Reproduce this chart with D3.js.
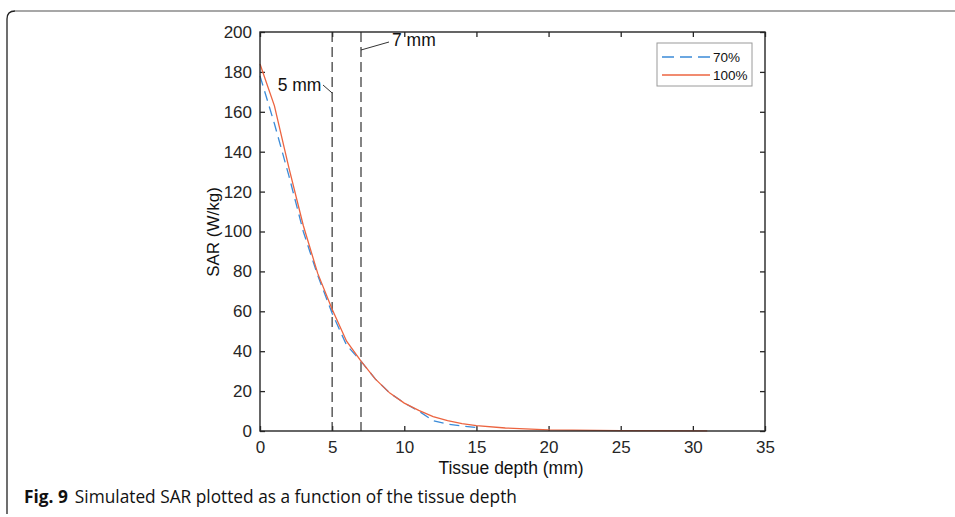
<!DOCTYPE html>
<html><head><meta charset="utf-8">
<script src="https://cdn.jsdelivr.net/npm/d3@7"></script>
<style>body{margin:0;background:#fff}svg{display:block}</style>
</head><body>
<svg id="c" width="955" height="517"></svg>
<script>
const depth100 = [0,1,2,3,4,5,6,7,8,9,10,11,12,13,14,15,17,20,25,31];
const sar100   = [184,163,132,103,79,61,45,35,26,19,14,10.3,7.2,5.2,3.7,2.7,1.5,0.6,0.2,0.1];
const depth70  = [0,1,2,3,4,5,6,7,8,9,10,11,12,13,14,15];
const sar70    = [178,154,128,100,78,59,43,35,26,19,14,10,5.2,3.5,2.5,1.8];
const xTicks = [0,5,10,15,20,25,30,35];
const yTicks = [0,20,40,60,80,100,120,140,160,180,200];
const markers = [5,7];
const markerLabels = ["5 mm","7 mm"];
const seriesNames = ["70%","100%"];

const svg = d3.select("#c");
const L=260,R=765,T=32,B=431;
const x = d3.scaleLinear().domain([0,35]).range([L,R]);
const y = d3.scaleLinear().domain([0,200]).range([B,T]);
const axisCol="#262626", font="'Liberation Sans', Arial, sans-serif";

// outer frame
svg.append("path").attr("d",`M7,514 L7,19 Q7,11 15,11`)
  .attr("fill","none").attr("stroke","#222").attr("stroke-width",1.3);
svg.append("path").attr("d",`M15,11 L955,11`).attr("stroke","#8a8a8a").attr("stroke-width",1.6);

const g = svg.append("g");
// axes
const ax = d3.axisBottom(x).tickValues(xTicks).tickSizeInner(-5).tickSizeOuter(0).tickPadding(10);
const ay = d3.axisLeft(y).tickValues(yTicks).tickSizeInner(-5).tickSizeOuter(0).tickPadding(8);
const axT = d3.axisTop(x).tickValues(xTicks).tickSizeInner(-5).tickSizeOuter(0).tickFormat("");
const ayR = d3.axisRight(y).tickValues(yTicks).tickSizeInner(-5).tickSizeOuter(0).tickFormat("");
function style(sel){sel.select(".domain").remove();sel.selectAll("line").attr("stroke",axisCol).attr("stroke-width",1.3);
  sel.selectAll("text").attr("fill","#262626").style("font-family",font).style("font-size","17px");}
g.append("g").attr("transform",`translate(0,${B})`).call(ax).call(style);
g.append("g").attr("transform",`translate(${L},0)`).call(ay).call(style);
g.append("g").attr("transform",`translate(0,${T})`).call(axT).call(style);
g.append("g").attr("transform",`translate(${R},0)`).call(ayR).call(style);

// marker lines
markers.forEach(m=>{
  g.append("line").attr("x1",x(m)).attr("x2",x(m)).attr("y1",T).attr("y2",B)
   .attr("stroke","#333").attr("stroke-width",1.2).attr("stroke-dasharray","10,5");
});

const line = d3.line().x(d=>x(d[0])).y(d=>y(d[1]));
g.append("path").datum(depth70.map((d,i)=>[d,sar70[i]])).attr("d",line)
  .attr("fill","none").attr("stroke","#3b8bd8").attr("stroke-width",1.3).attr("stroke-dasharray","10,6");
g.append("path").datum(depth100.map((d,i)=>[d,sar100[i]])).attr("d",line)
  .attr("fill","none").attr("stroke","#ec6440").attr("stroke-width",1.3);

// box
g.append("rect").attr("x",L).attr("y",T).attr("width",R-L).attr("height",B-T)
  .attr("fill","none").attr("stroke",axisCol).attr("stroke-width",1.4);

// annotations
g.append("line").attr("x1",323).attr("y1",85).attr("x2",x(5)).attr("y2",93).attr("stroke","#333").attr("stroke-width",1);
g.append("text").attr("x",299.5).attr("y",90.5).attr("text-anchor","middle").style("font-family",font).style("font-size","17.5px").attr("fill","#111").text(markerLabels[0]);
g.append("line").attr("x1",x(7)).attr("y1",50).attr("x2",389).attr("y2",42).attr("stroke","#333").attr("stroke-width",1);
g.append("text").attr("x",392).attr("y",45.5).style("font-family",font).style("font-size","17.5px").attr("fill","#111").text(markerLabels[1]);

// legend
g.append("rect").attr("x",657).attr("y",43).attr("width",95).attr("height",43).attr("fill","#fff").attr("stroke","#9a9a9a").attr("stroke-width",1);
[["#3b8bd8","12,6"],["#ec6440",null]].forEach((s,i)=>{
  const yy=57+i*18;
  g.append("line").attr("x1",662).attr("x2",710).attr("y1",yy).attr("y2",yy).attr("stroke",s[0]).attr("stroke-width",1.3).attr("stroke-dasharray",s[1]);
  g.append("text").attr("x",713).attr("y",yy+5).style("font-family",font).style("font-size","13.5px").attr("fill","#111").text(seriesNames[i]);
});

// axis labels
g.append("text").attr("x",511).attr("y",474).attr("text-anchor","middle").style("font-family",font).style("font-size","17.5px").attr("fill","#111").text("Tissue depth (mm)");
g.append("text").attr("transform",`translate(219,232) rotate(-90)`).attr("text-anchor","middle").style("font-family",font).style("font-size","17px").attr("fill","#111").text("SAR (W/kg)");

// caption
const cap = svg.append("text").attr("x",24).attr("y",503).style("font-family","'Open Sans', 'Noto Sans', sans-serif").style("font-size","17.3px").attr("fill","#111");
cap.append("tspan").attr("font-weight","bold").text("Fig. 9");
cap.append("tspan").attr("dx",7).text("Simulated SAR plotted as a function of the tissue depth");
</script>
</body></html>
